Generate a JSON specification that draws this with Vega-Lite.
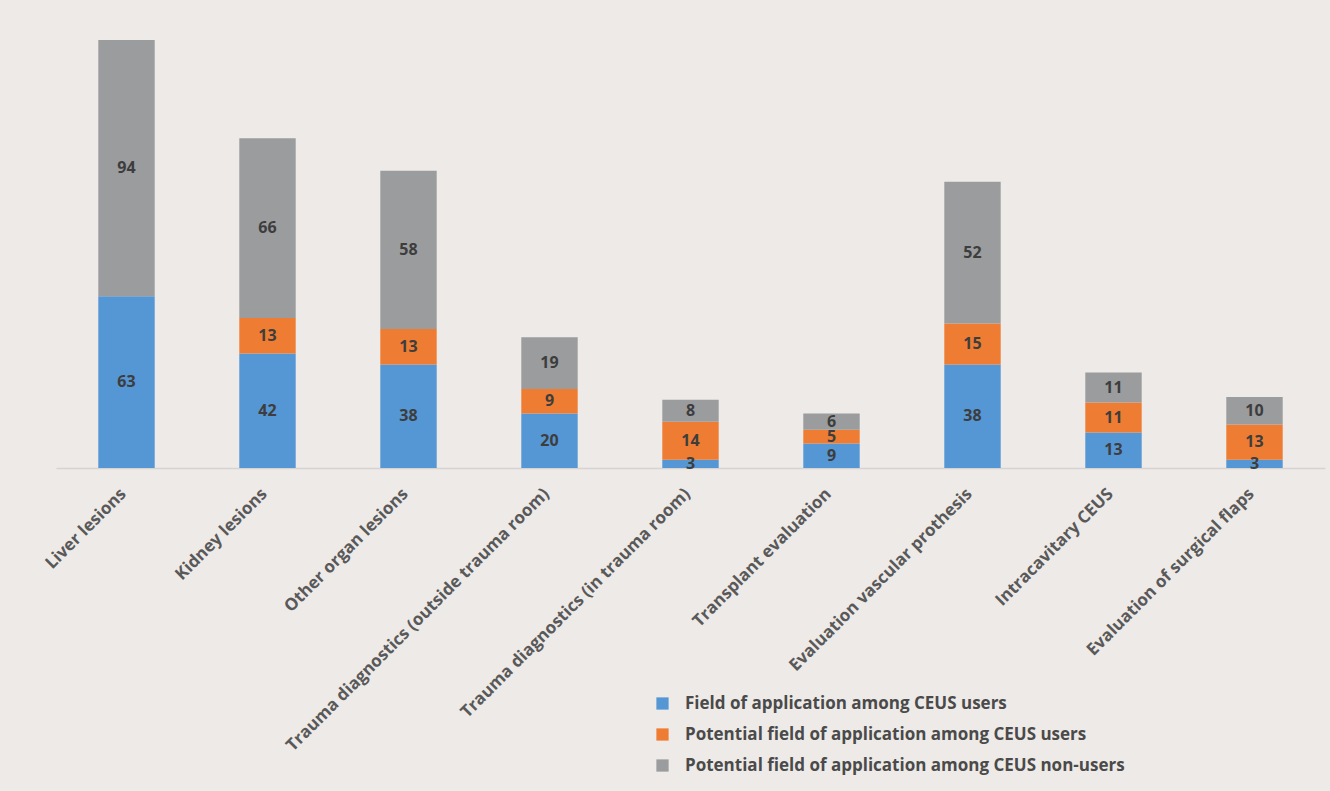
{
  "$schema": "https://vega.github.io/schema/vega-lite/v6.json",
  "width": 1269,
  "height": 428,
  "autosize": {"type": "none"},
  "padding": {"left": 56, "top": 40, "right": 5, "bottom": 323},
  "background": "#eeeae8",
  "config": {"view": {"stroke": null}, "font": "Open Sans"},
  "data": {
    "values": [
      {"cat": "Liver lesions", "series": "Field of application among CEUS users", "k": 1, "v": 63},
      {"cat": "Liver lesions", "series": "Potential field of application among CEUS users", "k": 2, "v": 0},
      {"cat": "Liver lesions", "series": "Potential field of application among CEUS non-users", "k": 3, "v": 94},
      {"cat": "Kidney lesions", "series": "Field of application among CEUS users", "k": 1, "v": 42},
      {"cat": "Kidney lesions", "series": "Potential field of application among CEUS users", "k": 2, "v": 13},
      {"cat": "Kidney lesions", "series": "Potential field of application among CEUS non-users", "k": 3, "v": 66},
      {"cat": "Other organ lesions", "series": "Field of application among CEUS users", "k": 1, "v": 38},
      {"cat": "Other organ lesions", "series": "Potential field of application among CEUS users", "k": 2, "v": 13},
      {"cat": "Other organ lesions", "series": "Potential field of application among CEUS non-users", "k": 3, "v": 58},
      {"cat": "Trauma diagnostics (outside trauma room)", "series": "Field of application among CEUS users", "k": 1, "v": 20},
      {"cat": "Trauma diagnostics (outside trauma room)", "series": "Potential field of application among CEUS users", "k": 2, "v": 9},
      {"cat": "Trauma diagnostics (outside trauma room)", "series": "Potential field of application among CEUS non-users", "k": 3, "v": 19},
      {"cat": "Trauma diagnostics (in trauma room)", "series": "Field of application among CEUS users", "k": 1, "v": 3},
      {"cat": "Trauma diagnostics (in trauma room)", "series": "Potential field of application among CEUS users", "k": 2, "v": 14},
      {"cat": "Trauma diagnostics (in trauma room)", "series": "Potential field of application among CEUS non-users", "k": 3, "v": 8},
      {"cat": "Transplant evaluation", "series": "Field of application among CEUS users", "k": 1, "v": 9},
      {"cat": "Transplant evaluation", "series": "Potential field of application among CEUS users", "k": 2, "v": 5},
      {"cat": "Transplant evaluation", "series": "Potential field of application among CEUS non-users", "k": 3, "v": 6},
      {"cat": "Evaluation vascular prothesis", "series": "Field of application among CEUS users", "k": 1, "v": 38},
      {"cat": "Evaluation vascular prothesis", "series": "Potential field of application among CEUS users", "k": 2, "v": 15},
      {"cat": "Evaluation vascular prothesis", "series": "Potential field of application among CEUS non-users", "k": 3, "v": 52},
      {"cat": "Intracavitary CEUS", "series": "Field of application among CEUS users", "k": 1, "v": 13},
      {"cat": "Intracavitary CEUS", "series": "Potential field of application among CEUS users", "k": 2, "v": 11},
      {"cat": "Intracavitary CEUS", "series": "Potential field of application among CEUS non-users", "k": 3, "v": 11},
      {"cat": "Evaluation of surgical flaps", "series": "Field of application among CEUS users", "k": 1, "v": 3},
      {"cat": "Evaluation of surgical flaps", "series": "Potential field of application among CEUS users", "k": 2, "v": 13},
      {"cat": "Evaluation of surgical flaps", "series": "Potential field of application among CEUS non-users", "k": 3, "v": 10}
    ]
  },
  "encoding": {
    "x": {
      "field": "cat", "type": "nominal", "sort": null, "title": null,
      "scale": {"paddingInner": 0.6, "paddingOuter": 0.3},
      "axis": {
        "labelAngle": -45, "labelAlign": "right", "labelBaseline": "middle",
        "labelFontSize": 17, "labelFontWeight": "bold", "labelColor": "#595959",
        "labelPadding": 23, "labelOffset": -3, "ticks": false, "domainColor": "#d6d3d1", "domainWidth": 1.5,
        "labelLimit": 500, "grid": false
      }
    },
    "y": {
      "field": "v", "type": "quantitative", "stack": "zero",
      "scale": {"domain": [0, 157], "nice": false}, "axis": null
    },
    "order": {"field": "k", "type": "quantitative"}
  },
  "layer": [
    {
      "mark": {"type": "bar"},
      "encoding": {
        "color": {
          "field": "series", "type": "nominal", "title": null,
          "scale": {
            "domain": ["Field of application among CEUS users", "Potential field of application among CEUS users", "Potential field of application among CEUS non-users"],
            "range": ["#5596d4", "#ee7d33", "#9a9c9e"]
          },
          "legend": {
            "orient": "none", "legendX": 598, "legendY": 655,
            "symbolType": "square", "symbolSize": 150, "symbolStrokeWidth": 0, "symbolOpacity": 1,
            "labelFontSize": 17, "labelFontWeight": "bold", "labelColor": "#4a4a4a",
            "labelOffset": 14, "rowPadding": 13, "padding": 0, "labelLimit": 600
          }
        }
      }
    },
    {
      "transform": [{"filter": "datum.v > 0"}],
      "mark": {"type": "text", "fontSize": 16, "fontWeight": "bold", "color": "#3d3d3d", "baseline": "middle"},
      "encoding": {
        "y": {"field": "v", "type": "quantitative", "stack": "zero", "bandPosition": 0.5},
        "text": {"field": "v", "type": "quantitative"}
      }
    }
  ]
}
